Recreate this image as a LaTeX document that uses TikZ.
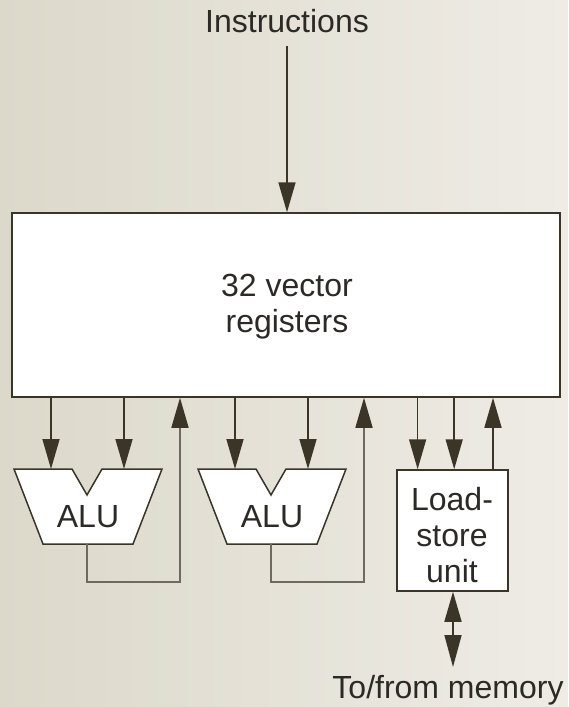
\documentclass[tikz,border=0pt]{standalone}
\usepackage{fontspec}
\setmainfont{Liberation Sans}
\usetikzlibrary{arrows.meta,calc}
\definecolor{bgL}{HTML}{DCD8CA}
\definecolor{bgR}{HTML}{EFECE6}
\definecolor{ink}{HTML}{3A3527}
\definecolor{txt}{HTML}{2C2A25}
\definecolor{fb}{HTML}{6E6A60}
\begin{document}
\begin{tikzpicture}[x=1pt,y=-1pt,
  lbl/.style={font=\fontsize{32}{36}\selectfont, text=txt, align=center, inner sep=0pt},
  tip/.style={-{Triangle[length=30pt,width=17pt,color=ink]}},
  conn/.style={draw=ink, line width=1.6pt, tip},
  fbconn/.style={draw=fb, line width=1.6pt, tip},
  boxst/.style={draw=ink, fill=white, line width=1.5pt, inner sep=0pt},
  alust/.style={draw=ink, fill=white, line width=1.5pt, line join=miter}
]
\shade[left color=bgL, right color=bgR] (0,0) rectangle (568,707);
\useasboundingbox (0,0) rectangle (568,707);

% instructions
\node[lbl] (instr) at (287,21) {Instructions};

% register file
\node[boxst, minimum width=548pt, minimum height=184pt] (regs) at (286,305) {};
\node[lbl] (regtext) at (287,307) {32 vector\\registers};

\draw[conn] ([yshift=-13pt]instr.south) -- (regs.north -| instr.south);

% ALUs
\foreach \n/\cx in {1/88,2/272} {
  \draw[alust] (\cx-74,469) -- (\cx-16,469) -- (\cx-1,495) -- (\cx+14,469)
    -- (\cx+74,469) -- (\cx+45,544) -- (\cx-45,544) -- cycle;
  \node[lbl] (alu\n) at (\cx,517) {ALU};
  \coordinate (alu\n inA) at (\cx-37,469);
  \coordinate (alu\n inB) at (\cx+36,469);
  \coordinate (alu\n out) at (\cx-1,544);
  \coordinate (alu\n ret) at (\cx+92,582);
}

\foreach \n in {1,2} {
  \draw[conn] (regs.south -| alu\n inA) -- (alu\n inA);
  \draw[conn] (regs.south -| alu\n inB) -- (alu\n inB);
  \draw[fbconn] (alu\n out) -- (alu\n out |- alu\n ret) -- (alu\n ret) -- (regs.south -| alu\n ret);
}

% load-store unit
\node[boxst, minimum width=111pt, minimum height=121pt] (lsu) at (452.5,530.5) {};
\node[lbl] (lsutext) at (452,535) {Load-\\store\\unit};
\coordinate (lsuA) at ($(lsu.north west)!0.19!(lsu.north east)$);
\coordinate (lsuB) at ($(lsu.north west)!0.515!(lsu.north east)$);
\coordinate (lsuC) at ($(lsu.north west)!0.86!(lsu.north east)$);
\draw[conn] (regs.south -| lsuA) -- (lsuA);
\draw[conn] (regs.south -| lsuB) -- (lsuB);
\draw[conn] (lsuC) -- (regs.south -| lsuC);

% memory
\coordinate (mem) at (453,667);
\node[lbl] (memtxt) at (448,690) {To/from memory};
\draw[draw=ink, line width=1.6pt, {Triangle[length=30pt,width=17pt]}-{Triangle[length=32pt,width=17pt]}] (lsu.south -| mem) -- (mem);
\end{tikzpicture}
\end{document}
